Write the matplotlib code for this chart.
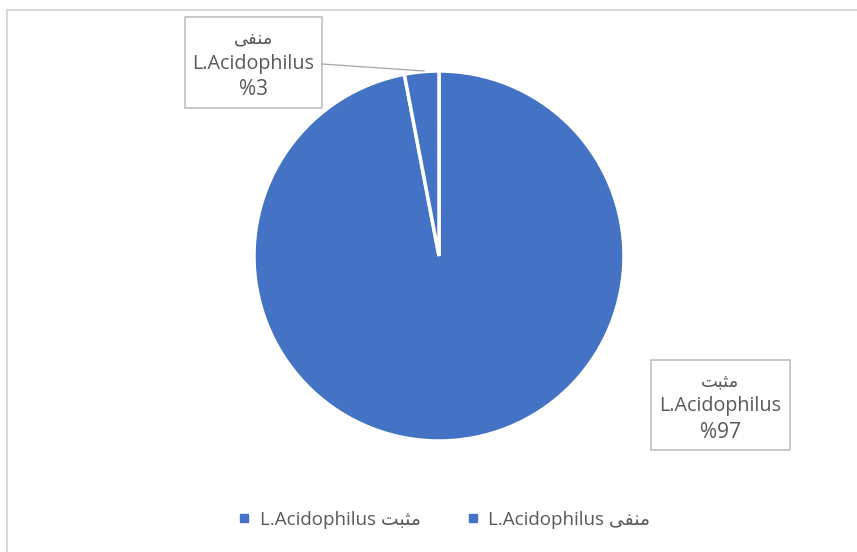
import matplotlib
matplotlib.use("Agg")
import matplotlib.pyplot as plt
from matplotlib.lines import Line2D
from matplotlib.patches import Rectangle

# matplotlib does no Arabic shaping -> presentation forms, visual order
POS = "\uFE96\uFE92\uFE9C\uFEE3"  # مثبت
NEG = "\uFBFD\uFED4\uFEE8\uFEE3"  # منفی

labels = [POS, NEG]
values = [97, 3]
pct_labels = ["%97", "%3"]
colors = ["#4472C4", "#4472C4"]

FONT = ["Open Sans", "DejaVu Sans"]
GREY = "#595959"

W, H = 857, 552
fig = plt.figure(figsize=(W / 100, H / 100), dpi=100)


def fx(x):
    return x / W


def fy(y):
    return 1 - y / H


# рамка области диаграммы
fig.add_artist(Rectangle((fx(7.5), fy(H + 5)), 1, (H + 5 - 9.5) / H,
                         transform=fig.transFigure, fill=False,
                         edgecolor="#d9d9d9", linewidth=1.5, clip_on=False))

cx, cy, r = 439, 256, 185
ax = fig.add_axes([fx(cx - r), fy(cy + r), 2 * r / W, 2 * r / H])
wedges, _ = ax.pie(values, colors=colors, startangle=90, counterclock=False,
                   wedgeprops=dict(edgecolor="white", linewidth=2.5))
ax.set_xlim(-1, 1)
ax.set_ylim(-1, 1)

# подписи в рамках: (left, top, right, bottom) в пикселях
boxes = [(651, 360, 790, 450), (185, 17, 322, 108)]
for (x0, y0, x1, y1), lab, pct in zip(boxes, labels, pct_labels):
    fig.add_artist(Rectangle((fx(x0), fy(y1)), (x1 - x0) / W, (y1 - y0) / H,
                             transform=fig.transFigure, facecolor="white",
                             edgecolor="#bfbfbf", linewidth=1.2))
    xc = (x0 + x1) / 2
    ym = (y0 + y1) / 2
    for dy, s, fs in zip([-24, 1, 27], [lab, "L.Acidophilus", pct],
                         [13, 14.2, 15]):
        fig.text(fx(xc), fy(ym + dy), s, ha="center", va="center",
                 color=GREY, fontsize=fs, family=FONT)

# линия-выноска к маленькому сектору
fig.add_artist(Line2D([fx(322), fx(424)], [fy(64), fy(71)],
                      transform=fig.transFigure, color="#a6a6a6", lw=0.9))

handles = [Line2D([], [], marker="s", ls="none", color=c, markersize=6)
           for c in colors]
fig.legend(handles, [f"L.Acidophilus {l}" for l in labels], loc="center",
           bbox_to_anchor=(fx(444), fy(520)), ncol=2, frameon=False,
           prop={"family": FONT, "size": 13.5}, labelcolor=GREY,
           handlelength=0.7, handletextpad=0.5, columnspacing=2.4)

fig.savefig("out.png", dpi=100)
